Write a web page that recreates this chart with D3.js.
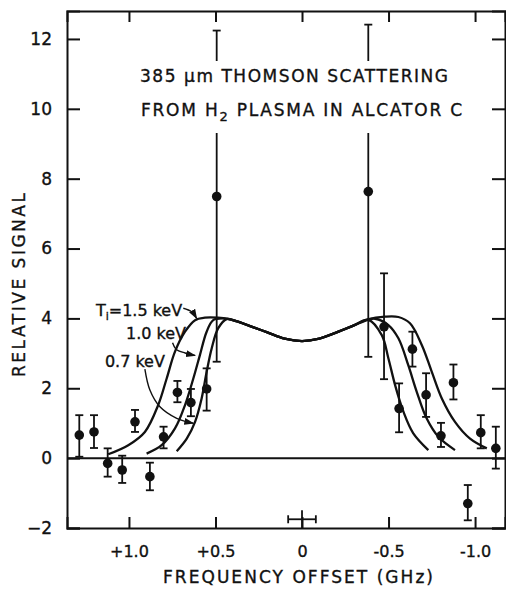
<!DOCTYPE html>
<html>
<head>
<meta charset="utf-8">
<script src="https://cdn.jsdelivr.net/npm/d3@7"></script>
<style>
  body { margin: 0; background: #fff; }
  text { font-family: "DejaVu Sans", sans-serif; fill: #111; stroke: #111; stroke-width: 0.35px; }
</style>
</head>
<body>
<div id="chart"></div>
<script>
// measured points (frequency offset in GHz, relative signal)
const freq    = [1.287, 1.202, 1.123, 1.039, 0.965, 0.879, 0.80, 0.72, 0.642, 0.551, 0.493,
                 -0.383, -0.474, -0.561, -0.638, -0.717, -0.803, -0.875, -0.958, -1.033, -1.12];
const signal  = [0.66, 0.75, -0.15, -0.34, 1.04, -0.53, 0.61, 1.88, 1.59, 1.98, 7.49,
                 7.63, 3.76, 1.42, 3.12, 1.81, 0.64, 2.16, -1.30, 0.73, 0.28];
const errLow  = [0.04, 0.29, -0.53, -0.71, 0.75, -0.92, 0.28, 1.60, 1.20, 1.36, 2.76,
                 2.90, 2.26, 0.74, 2.62, 1.18, 0.32, 1.68, -1.78, 0.28, -0.30];
const errHigh = [1.23, 1.23, 0.28, 0.07, 1.38, -0.13, 0.90, 2.21, 1.98, 2.57, 12.24,
                 12.41, 5.29, 2.14, 3.62, 2.43, 1.01, 2.68, -0.77, 1.23, 0.90];

// theory curves: [freq, signal]
const centerPart = [[0.38, 3.92], [0.30, 3.78], [0.2, 3.6], [0.1, 3.42], [0, 3.35],
                    [-0.1, 3.42], [-0.2, 3.6], [-0.3, 3.8]];
const ti07Left  = [[0.724, 0.2], [0.666, 0.56], [0.618, 1.04], [0.58, 1.71], [0.551, 2.47],
                   [0.522, 3.14], [0.484, 3.72], [0.435, 3.98]];
const ti07Right = [[-0.383, 3.96], [-0.461, 3.52], [-0.499, 2.86], [-0.538, 2.09],
                   [-0.586, 1.33], [-0.643, 0.71], [-0.73, 0.23]];
const ti10Left  = [[0.898, 0.13], [0.811, 0.37], [0.734, 0.85], [0.676, 1.52], [0.628, 2.28],
                   [0.59, 2.95], [0.551, 3.62], [0.513, 3.95], [0.455, 4.0]];
const ti10Right = [[-0.38, 3.96], [-0.422, 3.99], [-0.499, 3.81], [-0.557, 3.43], [-0.614, 2.66],
                   [-0.663, 1.9], [-0.72, 1.14], [-0.788, 0.61], [-0.884, 0.23]];
const ti15Left  = [[1.12, 0.11], [1.004, 0.37], [0.908, 0.75], [0.831, 1.52], [0.782, 2.28],
                   [0.734, 3.05], [0.676, 3.62], [0.618, 3.95], [0.561, 4.02], [0.484, 4.02], [0.43, 3.99]];
const ti15Right = [[-0.38, 3.97], [-0.48, 4.05], [-0.557, 4.04], [-0.624, 3.86], [-0.692, 3.24],
                   [-0.75, 2.47], [-0.808, 1.71], [-0.884, 1.04], [-0.971, 0.56], [-1.068, 0.28]];

const xTicks = [1.0, 0.5, 0, -0.5, -1.0];
const xTickLabels = ["+1.0", "+0.5", "0", "-0.5", "-1.0"];
const yTicks = [-2, 0, 2, 4, 6, 8, 10, 12];

// labels for the curves, with arrow paths in data units
const curveLabels = [
  { text: "1.5 keV", sub: true, at: [1.191, 4.07], arrow: [[0.686, 4.29], [0.638, 4.19], [0.609, 4.0]] },
  { text: "1.0 keV", sub: false, at: [1.017, 3.41], arrow: [[0.748, 3.3], [0.728, 3.12], [0.676, 3.01], [0.618, 2.94]] },
  { text: "0.7 keV", sub: false, at: [1.139, 2.61], arrow: [[0.908, 2.55], [0.879, 1.95], [0.821, 1.47], [0.724, 1.14], [0.628, 1.0]] }
];

const freqRes = 0.08;     // horizontal resolution bar
const freqResLevel = -1.75;

const width = 506, height = 590;
const x = d3.scaleLinear().domain([1.358, -1.173]).range([67, 505]);
const y = d3.scaleLinear().domain([-2, 12.8]).range([528, 11]);

const svg = d3.select("#chart").append("svg")
  .attr("width", width)
  .attr("height", height);

svg.append("defs").append("marker")
  .attr("id", "arrow")
  .attr("viewBox", "0 0 10 10")
  .attr("refX", 9).attr("refY", 5)
  .attr("markerUnits", "userSpaceOnUse")
  .attr("markerWidth", 10).attr("markerHeight", 10)
  .attr("orient", "auto")
  .append("path")
  .attr("d", "M0,1.5L10,5L0,8.5Z")
  .attr("fill", "#111");

// axes - ticks point inward
const axLeft = svg.append("g").attr("transform", `translate(${x.range()[0]},0)`)
  .call(d3.axisLeft(y).tickValues(yTicks).tickSize(-13).tickPadding(15));
const axRight = svg.append("g").attr("transform", `translate(${x.range()[1]},0)`)
  .call(d3.axisRight(y).tickValues(yTicks).tickSize(-13).tickFormat(""));
const axBottom = svg.append("g").attr("transform", `translate(0,${y(-2)})`)
  .call(d3.axisBottom(x).tickValues(xTicks).tickSize(-11).tickPadding(18)
    .tickFormat((d, i) => xTickLabels[i]));
const axTop = svg.append("g").attr("transform", `translate(0,${y.range()[1]})`)
  .call(d3.axisTop(x).tickValues(xTicks).tickSize(-11).tickFormat(""));

[axLeft, axRight, axBottom, axTop].forEach(g => {
  g.select(".domain").attr("stroke", "#111").attr("stroke-width", 2);
  g.selectAll(".tick line").attr("stroke", "#111").attr("stroke-width", 2);
  g.selectAll(".tick text").style("font-size", "16px").attr("fill", "#111");
});
axLeft.selectAll(".tick text").style("font-size", "17px");

// zero line
svg.append("line")
  .attr("x1", x.range()[0]).attr("x2", x.range()[1])
  .attr("y1", y(0)).attr("y2", y(0))
  .attr("stroke", "#111").attr("stroke-width", 2);

// theory curves
const line = d3.line()
  .x(d => x(d[0])).y(d => y(d[1]))
  .curve(d3.curveCatmullRom.alpha(0.5));

[[ti07Left, ti07Right], [ti10Left, ti10Right], [ti15Left, ti15Right]].forEach(([l, r]) => {
  svg.append("path")
    .datum(l.concat(centerPart, r))
    .attr("d", line)
    .attr("fill", "none")
    .attr("stroke", "#111")
    .attr("stroke-width", 2.3);
});

// error bars and points
const pts = freq.map((f, i) => ({ f, s: signal[i], lo: errLow[i], hi: errHigh[i] }));
const bars = svg.append("g").attr("stroke", "#111").attr("stroke-width", 1.8);
bars.selectAll(".eb").data(pts).enter().append("line")
  .attr("x1", d => x(d.f)).attr("x2", d => x(d.f))
  .attr("y1", d => y(d.lo)).attr("y2", d => y(d.hi));
bars.selectAll(".cap-lo").data(pts).enter().append("line")
  .attr("x1", d => x(d.f) - 4).attr("x2", d => x(d.f) + 4)
  .attr("y1", d => y(d.lo)).attr("y2", d => y(d.lo));
bars.selectAll(".cap-hi").data(pts).enter().append("line")
  .attr("x1", d => x(d.f) - 4).attr("x2", d => x(d.f) + 4)
  .attr("y1", d => y(d.hi)).attr("y2", d => y(d.hi));

svg.append("g").selectAll("circle").data(pts).enter().append("circle")
  .attr("cx", d => x(d.f)).attr("cy", d => y(d.s))
  .attr("r", 4.8).attr("fill", "#111");

// frequency resolution cross
const res = svg.append("g").attr("stroke", "#111").attr("stroke-width", 1.8);
res.append("line")
  .attr("x1", x(freqRes)).attr("x2", x(-freqRes))
  .attr("y1", y(freqResLevel)).attr("y2", y(freqResLevel));
[freqRes, -freqRes].forEach(f => res.append("line")
  .attr("x1", x(f)).attr("x2", x(f))
  .attr("y1", y(freqResLevel) - 4).attr("y2", y(freqResLevel) + 4));
res.append("line")
  .attr("x1", x(0)).attr("x2", x(0))
  .attr("y1", y(freqResLevel) - 9).attr("y2", y(-2));

// title block (blanks out the long error bars behind it)
svg.append("rect")
  .attr("x", 136).attr("y", 61).attr("width", 330).attr("height", 72)
  .attr("fill", "#fff");
svg.append("text")
  .attr("x", 140).attr("y", 82)
  .attr("textLength", 308).attr("lengthAdjust", "spacing")
  .style("font-size", "17px")
  .text("385 \u03bcm THOMSON SCATTERING");
const t2 = svg.append("text")
  .attr("x", 141).attr("y", 116)
  .attr("textLength", 321).attr("lengthAdjust", "spacing")
  .style("font-size", "17px");
t2.append("tspan").text("FROM H");
t2.append("tspan").attr("dy", 5).style("font-size", "13px").text("2");
t2.append("tspan").attr("dy", -5).text(" PLASMA IN ALCATOR C");

// curve labels
curveLabels.forEach(c => {
  const t = svg.append("text")
    .attr("x", x(c.at[0])).attr("y", y(c.at[1]))
    .style("font-size", "16px");
  if (c.sub) {
    t.append("tspan").text("T");
    t.append("tspan").attr("dy", 4).style("font-size", "11px").text("i");
    t.append("tspan").attr("dy", -4).text("=" + c.text);
  } else {
    t.text(c.text);
  }
  svg.append("path")
    .datum(c.arrow)
    .attr("d", d3.line().x(d => x(d[0])).y(d => y(d[1])).curve(d3.curveCatmullRom.alpha(0.5)))
    .attr("fill", "none")
    .attr("stroke", "#111")
    .attr("stroke-width", 1.4)
    .attr("marker-end", "url(#arrow)");
});

// axis titles
svg.append("text")
  .attr("x", 163).attr("y", 583)
  .attr("textLength", 270).attr("lengthAdjust", "spacing")
  .style("font-size", "17px")
  .text("FREQUENCY OFFSET (GHz)");
svg.append("text")
  .attr("transform", "translate(25,377) rotate(-90)")
  .attr("textLength", 184).attr("lengthAdjust", "spacing")
  .style("font-size", "17px")
  .text("RELATIVE SIGNAL");
</script>
</body>
</html>
